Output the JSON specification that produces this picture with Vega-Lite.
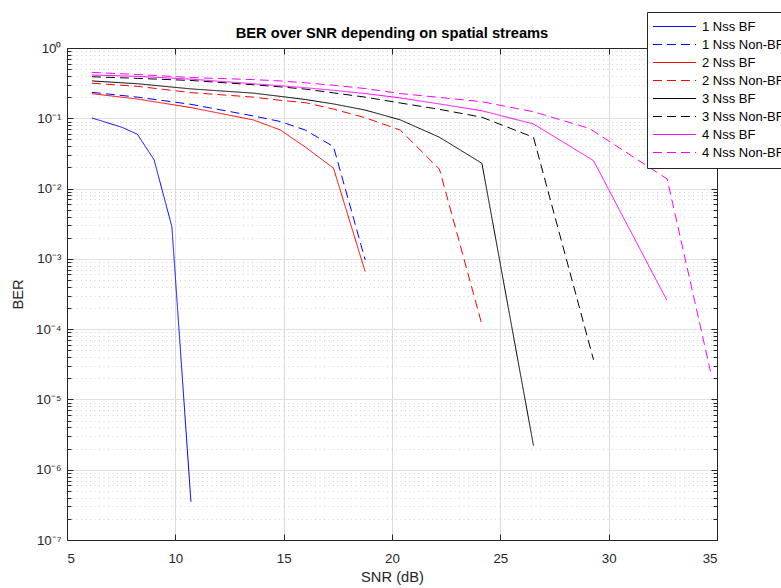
{
  "$schema": "https://vega.github.io/schema/vega-lite/v6.json",
  "autosize": {"type": "none"},
  "padding": {"left": 67, "top": 48, "right": 64, "bottom": 48},
  "width": 650,
  "height": 492,
  "background": "white",
  "config": {
    "font": "Liberation Sans",
    "view": {"stroke": "#262626", "strokeWidth": 1},
    "axis": {"domainColor": "#262626", "tickColor": "#262626", "labelColor": "#262626", "titleColor": "#262626", "labelFont": "Liberation Sans", "titleFont": "Liberation Sans", "labelFontSize": 13.3, "titleFontSize": 14.7, "titleFontWeight": "normal"}
  },
  "title": {"text": "BER over SNR depending on spatial streams", "fontSize": 14.7, "fontWeight": "bold", "color": "#000000", "font": "Liberation Sans", "offset": -29},
  "data": {"values": [
    {"series": "1 Nss BF", "snr": 6.15, "ber": 0.101},
    {"series": "1 Nss BF", "snr": 7.53, "ber": 0.0746},
    {"series": "1 Nss BF", "snr": 8.25, "ber": 0.0593},
    {"series": "1 Nss BF", "snr": 9.02, "ber": 0.0256},
    {"series": "1 Nss BF", "snr": 9.84, "ber": 0.00288},
    {"series": "1 Nss BF", "snr": 10.72, "ber": 3.5e-7},
    {"series": "1 Nss Non-BF", "snr": 6.15, "ber": 0.234},
    {"series": "1 Nss Non-BF", "snr": 8.25, "ber": 0.2},
    {"series": "1 Nss Non-BF", "snr": 10.72, "ber": 0.158},
    {"series": "1 Nss Non-BF", "snr": 13.6, "ber": 0.108},
    {"series": "1 Nss Non-BF", "snr": 14.84, "ber": 0.09},
    {"series": "1 Nss Non-BF", "snr": 16.0, "ber": 0.068},
    {"series": "1 Nss Non-BF", "snr": 17.3, "ber": 0.0395},
    {"series": "1 Nss Non-BF", "snr": 18.76, "ber": 0.00097},
    {"series": "2 Nss BF", "snr": 6.15, "ber": 0.224},
    {"series": "2 Nss BF", "snr": 8.25, "ber": 0.188},
    {"series": "2 Nss BF", "snr": 10.72, "ber": 0.142},
    {"series": "2 Nss BF", "snr": 13.6, "ber": 0.0948},
    {"series": "2 Nss BF", "snr": 14.84, "ber": 0.0683},
    {"series": "2 Nss BF", "snr": 16.0, "ber": 0.0389},
    {"series": "2 Nss BF", "snr": 17.3, "ber": 0.0195},
    {"series": "2 Nss BF", "snr": 18.76, "ber": 0.00066},
    {"series": "2 Nss Non-BF", "snr": 6.15, "ber": 0.315},
    {"series": "2 Nss Non-BF", "snr": 8.25, "ber": 0.285},
    {"series": "2 Nss Non-BF", "snr": 10.72, "ber": 0.232},
    {"series": "2 Nss Non-BF", "snr": 13.6, "ber": 0.2},
    {"series": "2 Nss Non-BF", "snr": 14.84, "ber": 0.18},
    {"series": "2 Nss Non-BF", "snr": 16.0, "ber": 0.167},
    {"series": "2 Nss Non-BF", "snr": 17.3, "ber": 0.135},
    {"series": "2 Nss Non-BF", "snr": 18.76, "ber": 0.102},
    {"series": "2 Nss Non-BF", "snr": 20.38, "ber": 0.068},
    {"series": "2 Nss Non-BF", "snr": 22.19, "ber": 0.0189},
    {"series": "2 Nss Non-BF", "snr": 24.15, "ber": 0.000116},
    {"series": "3 Nss BF", "snr": 6.15, "ber": 0.34},
    {"series": "3 Nss BF", "snr": 8.25, "ber": 0.31},
    {"series": "3 Nss BF", "snr": 10.72, "ber": 0.262},
    {"series": "3 Nss BF", "snr": 13.6, "ber": 0.228},
    {"series": "3 Nss BF", "snr": 14.84, "ber": 0.205},
    {"series": "3 Nss BF", "snr": 16.0, "ber": 0.185},
    {"series": "3 Nss BF", "snr": 17.3, "ber": 0.16},
    {"series": "3 Nss BF", "snr": 18.76, "ber": 0.131},
    {"series": "3 Nss BF", "snr": 20.38, "ber": 0.095},
    {"series": "3 Nss BF", "snr": 22.19, "ber": 0.0537},
    {"series": "3 Nss BF", "snr": 24.15, "ber": 0.0229},
    {"series": "3 Nss BF", "snr": 26.53, "ber": 0.0000022},
    {"series": "3 Nss Non-BF", "snr": 6.15, "ber": 0.39},
    {"series": "3 Nss Non-BF", "snr": 8.25, "ber": 0.37},
    {"series": "3 Nss Non-BF", "snr": 10.72, "ber": 0.345},
    {"series": "3 Nss Non-BF", "snr": 13.6, "ber": 0.3},
    {"series": "3 Nss Non-BF", "snr": 14.84, "ber": 0.28},
    {"series": "3 Nss Non-BF", "snr": 16.0, "ber": 0.26},
    {"series": "3 Nss Non-BF", "snr": 17.3, "ber": 0.23},
    {"series": "3 Nss Non-BF", "snr": 18.76, "ber": 0.2},
    {"series": "3 Nss Non-BF", "snr": 20.38, "ber": 0.165},
    {"series": "3 Nss Non-BF", "snr": 22.19, "ber": 0.134},
    {"series": "3 Nss Non-BF", "snr": 24.15, "ber": 0.1035},
    {"series": "3 Nss Non-BF", "snr": 26.53, "ber": 0.0537},
    {"series": "3 Nss Non-BF", "snr": 29.3, "ber": 0.0000367},
    {"series": "4 Nss BF", "snr": 6.15, "ber": 0.413},
    {"series": "4 Nss BF", "snr": 8.25, "ber": 0.395},
    {"series": "4 Nss BF", "snr": 10.72, "ber": 0.36},
    {"series": "4 Nss BF", "snr": 13.6, "ber": 0.31},
    {"series": "4 Nss BF", "snr": 14.84, "ber": 0.29},
    {"series": "4 Nss BF", "snr": 16.0, "ber": 0.272},
    {"series": "4 Nss BF", "snr": 17.3, "ber": 0.25},
    {"series": "4 Nss BF", "snr": 18.76, "ber": 0.225},
    {"series": "4 Nss BF", "snr": 20.38, "ber": 0.195},
    {"series": "4 Nss BF", "snr": 22.19, "ber": 0.16},
    {"series": "4 Nss BF", "snr": 24.15, "ber": 0.128},
    {"series": "4 Nss BF", "snr": 26.53, "ber": 0.083},
    {"series": "4 Nss BF", "snr": 29.3, "ber": 0.025},
    {"series": "4 Nss BF", "snr": 32.68, "ber": 0.00026},
    {"series": "4 Nss Non-BF", "snr": 6.15, "ber": 0.45},
    {"series": "4 Nss Non-BF", "snr": 8.25, "ber": 0.42},
    {"series": "4 Nss Non-BF", "snr": 10.72, "ber": 0.38},
    {"series": "4 Nss Non-BF", "snr": 13.6, "ber": 0.355},
    {"series": "4 Nss Non-BF", "snr": 14.84, "ber": 0.34},
    {"series": "4 Nss Non-BF", "snr": 16.0, "ber": 0.32},
    {"series": "4 Nss Non-BF", "snr": 17.3, "ber": 0.295},
    {"series": "4 Nss Non-BF", "snr": 18.76, "ber": 0.265},
    {"series": "4 Nss Non-BF", "snr": 20.38, "ber": 0.225},
    {"series": "4 Nss Non-BF", "snr": 22.19, "ber": 0.198},
    {"series": "4 Nss Non-BF", "snr": 24.15, "ber": 0.172},
    {"series": "4 Nss Non-BF", "snr": 26.53, "ber": 0.124},
    {"series": "4 Nss Non-BF", "snr": 29.1, "ber": 0.072},
    {"series": "4 Nss Non-BF", "snr": 32.7, "ber": 0.0137},
    {"series": "4 Nss Non-BF", "snr": 34.7, "ber": 0.000025}
  ]},
  "layer": [
    {
      "mark": {"type": "line", "strokeWidth": 1, "clip": true},
      "encoding": {
        "x": {"field": "snr", "type": "quantitative", "scale": {"domain": [5, 35], "nice": false, "zero": false},
          "axis": {"title": "SNR (dB)", "values": [5, 10, 15, 20, 25, 30, 35], "tickSize": -6, "labelPadding": 17, "titlePadding": 5, "gridColor": "#dcdcdc", "domain": true}},
        "y": {"field": "ber", "type": "quantitative", "scale": {"type": "log", "domain": [1e-7, 1], "nice": false},
          "axis": {"title": "BER", "titlePadding": 10,
            "values": [1e-7,2e-7,3e-7,4e-7,5e-7,6e-7,7e-7,8e-7,9e-7,1e-6,2e-6,3e-6,4e-6,5e-6,6e-6,7e-6,8e-6,9e-6,1e-5,2e-5,3e-5,4e-5,5e-5,6e-5,7e-5,8e-5,9e-5,1e-4,2e-4,3e-4,4e-4,5e-4,6e-4,7e-4,8e-4,9e-4,0.001,0.002,0.003,0.004,0.005,0.006,0.007,0.008,0.009,0.01,0.02,0.03,0.04,0.05,0.06,0.07,0.08,0.09,0.1,0.2,0.3,0.4,0.5,0.6,0.7,0.8,0.9,1],
            "labelExpr": "abs(log(datum.value)/LN10 - round(log(datum.value)/LN10)) < 0.001 ? ['10⁰','10⁻¹','10⁻²','10⁻³','10⁻⁴','10⁻⁵','10⁻⁶','10⁻⁷'][round(-log(datum.value)/LN10)] : ''",
            "tickSize": {"condition": {"test": "abs(log(datum.value)/LN10 - round(log(datum.value)/LN10)) < 0.001", "value": -6}, "value": -4},
            "labelPadding": 12,
            "gridColor": {"condition": {"test": "abs(log(datum.value)/LN10 - round(log(datum.value)/LN10)) < 0.001", "value": "#e0e0e0"}, "value": "#d2d2d2"},
            "gridDash": {"condition": {"test": "abs(log(datum.value)/LN10 - round(log(datum.value)/LN10)) < 0.001", "value": []}, "value": [1, 3.5]}
          }},
        "color": {"field": "series", "type": "nominal", "title": null,
          "scale": {"domain": ["1 Nss BF", "1 Nss Non-BF", "2 Nss BF", "2 Nss Non-BF", "3 Nss BF", "3 Nss Non-BF", "4 Nss BF", "4 Nss Non-BF"],
            "range": ["#0000ff", "#0000ff", "#ff0000", "#ff0000", "#000000", "#000000", "#ff00ff", "#ff00ff"]},
          "legend": {"orient": "none", "legendX": 580, "legendY": -36, "symbolType": "M-4,0H4", "symbolSize": 116, "symbolStrokeWidth": 1, "symbolOffset": 13, "labelFontSize": 13, "labelFont": "Liberation Sans", "labelColor": "#000000", "labelOffset": 21, "padding": 8, "rowPadding": 4, "strokeColor": "#262626", "fillColor": "white", "cornerRadius": 0}},
        "strokeDash": {"field": "series", "type": "nominal", "title": null,
          "scale": {"domain": ["1 Nss BF", "1 Nss Non-BF", "2 Nss BF", "2 Nss Non-BF", "3 Nss BF", "3 Nss Non-BF", "4 Nss BF", "4 Nss Non-BF"],
            "range": [[1, 0], [9, 5], [1, 0], [9, 5], [1, 0], [9, 5], [1, 0], [9, 5]]}}
      }
    },
    {
      "mark": {"type": "line", "strokeOpacity": 0},
      "encoding": {
        "x": {"field": "snr", "type": "quantitative", "scale": {"domain": [5, 35], "nice": false, "zero": false},
          "axis": {"orient": "top", "title": null, "labels": false, "grid": false, "values": [5, 10, 15, 20, 25, 30, 35], "tickSize": -6}},
        "y": {"field": "ber", "type": "quantitative", "scale": {"type": "log", "domain": [1e-7, 1], "nice": false},
          "axis": {"orient": "right", "title": null, "labels": false, "grid": false,
            "values": [1e-7,2e-7,3e-7,4e-7,5e-7,6e-7,7e-7,8e-7,9e-7,1e-6,2e-6,3e-6,4e-6,5e-6,6e-6,7e-6,8e-6,9e-6,1e-5,2e-5,3e-5,4e-5,5e-5,6e-5,7e-5,8e-5,9e-5,1e-4,2e-4,3e-4,4e-4,5e-4,6e-4,7e-4,8e-4,9e-4,0.001,0.002,0.003,0.004,0.005,0.006,0.007,0.008,0.009,0.01,0.02,0.03,0.04,0.05,0.06,0.07,0.08,0.09,0.1,0.2,0.3,0.4,0.5,0.6,0.7,0.8,0.9,1],
            "tickSize": {"condition": {"test": "abs(log(datum.value)/LN10 - round(log(datum.value)/LN10)) < 0.001", "value": -6}, "value": -4}}},
        "detail": {"field": "series", "type": "nominal"}
      }
    }
  ],
  "resolve": {"axis": {"x": "independent", "y": "independent"}}
}
